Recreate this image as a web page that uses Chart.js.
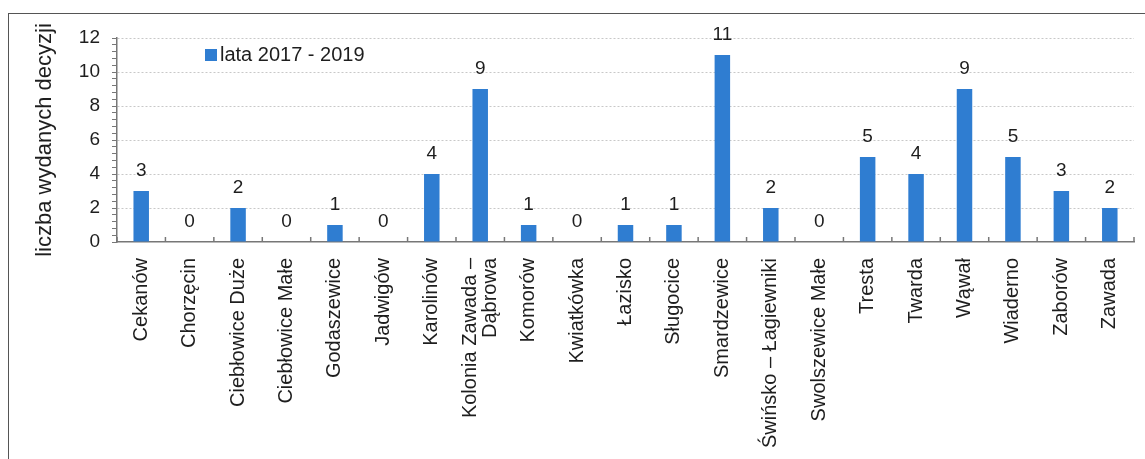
<!DOCTYPE html>
<html><head><meta charset="utf-8">
<script src="https://cdn.jsdelivr.net/npm/chart.js@4/dist/chart.umd.min.js"></script>
<style>
html,body{margin:0;padding:0;background:#fff;}
#wrap{position:relative;width:1145px;height:459px;overflow:hidden;}
#frame{position:absolute;left:8px;top:13px;width:1200px;height:500px;border-left:1.5px solid #555;border-top:1.5px solid #555;box-sizing:border-box;}
canvas{position:absolute;left:0;top:0;}
</style></head>
<body><div id="wrap"><div id="frame"></div><canvas id="c" width="1145" height="459"></canvas></div>
<script>
const categories = ['Cekanów','Chorzęcin','Ciebłowice Duże','Ciebłowice Małe','Godaszewice','Jadwigów','Karolinów',['Kolonia Zawada –','Dąbrowa'],'Komorów','Kwiatkówka','Łazisko','Sługocice','Smardzewice','Świńsko – Łagiewniki','Swolszewice Małe','Tresta','Twarda','Wąwał','Wiaderno','Zaborów','Zawada'];
const values = [3,0,2,0,1,0,4,9,1,0,1,1,11,2,0,5,4,9,5,3,2];
const seriesName = 'lata 2017 - 2019';
const yTitle = 'liczba wydanych decyzji';
const barColor = '#2f7dd1';
const textColor = '#1e1e1e';
const FONT = "'Liberation Sans', Arial, sans-serif";

const isMajor = v => Math.abs(v - Math.round(v)) < 1e-6 && Math.round(v) % 2 === 0;

const valueLabels = {
  id: 'valueLabels',
  afterDatasetsDraw(chart) {
    const ctx = chart.ctx;
    const meta = chart.getDatasetMeta(0);
    ctx.save();
    ctx.font = '19px ' + FONT;
    ctx.fillStyle = textColor;
    ctx.textAlign = 'center';
    ctx.textBaseline = 'alphabetic';
    meta.data.forEach((el, i) => {
      ctx.fillText(String(chart.data.datasets[0].data[i]), el.x, el.y - 15);
    });
    ctx.restore();
  }
};

// centre multi-line rotated labels on their tick
const centerMultiline = {
  id: 'centerMultiline',
  beforeDraw(chart) {
    const sc = chart.scales.x;
    const items = sc.getLabelItems();
    if (items._centered) return;
    items.forEach((it) => {
      if (Array.isArray(it.label) && it.label.length > 1) {
        const lh = it.font.lineHeight;
        it.options.translation[0] -= (it.label.length - 1) * lh / 2;
      }
    });
    items._centered = true;
  }
};

const innerLegend = {
  id: 'innerLegend',
  afterDraw(chart) {
    const ctx = chart.ctx;
    const ds = chart.data.datasets[0];
    ctx.save();
    ctx.fillStyle = ds.backgroundColor;
    ctx.fillRect(205, 49, 12, 12);
    ctx.font = '20px ' + FONT;
    ctx.fillStyle = textColor;
    ctx.textBaseline = 'middle';
    ctx.textAlign = 'left';
    ctx.fillText(ds.label, 220, 55);
    ctx.restore();
  }
};

const xTickMarks = {
  id: 'xTickMarks',
  afterDraw(chart) {
    const x = chart.scales.x, ctx = chart.ctx;
    const bottom = chart.chartArea.bottom;
    ctx.save();
    ctx.strokeStyle = '#777';
    ctx.lineWidth = 1.5;
    for (let i = 0; i <= categories.length; i++) {
      const px = x.getPixelForValue(i - 0.5);
      ctx.beginPath();
      ctx.moveTo(px, bottom);
      ctx.lineTo(px, bottom - 5);
      ctx.stroke();
    }
    ctx.restore();
  }
};

new Chart(document.getElementById('c'), {
  type: 'bar',
  data: {
    labels: categories,
    datasets: [{
      label: seriesName,
      data: values,
      backgroundColor: barColor,
      borderWidth: 0,
      barPercentage: 0.32,
      categoryPercentage: 1
    }]
  },
  options: {
    responsive: false,
    animation: false,
    devicePixelRatio: 1,
    layout: { padding: { top: 38, left: 32, right: 11, bottom: 0 } },
    plugins: { legend: { display: false }, tooltip: { enabled: false } },
    scales: {
      x: {
        grid: { display: false },
        border: { display: true, color: '#777', width: 1.5 },
        ticks: {
          autoSkip: false, maxRotation: 90, minRotation: 90,
          color: textColor, padding: 8,
          font: { family: FONT, size: 20, lineHeight: 1.0 }
        },
        afterFit(scale) { scale.height = 217; }
      },
      y: {
        min: 0, max: 12,
        afterBuildTicks(scale) {
          const t = [];
          for (let k = 0; k <= 30; k++) t.push({ value: Math.round(k * 0.4 * 10) / 10 });
          scale.ticks = t;
        },
        ticks: {
          autoSkip: false,
          color: textColor, padding: 12,
          font: { family: FONT, size: 19 },
          callback: (v) => isMajor(v) ? String(Math.round(v)) : ''
        },
        grid: {
          color: (c) => (c.tick && isMajor(c.tick.value) && c.tick.value !== 0) ? '#c8c8c8' : 'rgba(0,0,0,0)',
          tickColor: '#777',
          tickLength: 5,
          tickBorderDash: [],
          lineWidth: 1
        },
        border: { display: true, color: '#777', width: 1.5, dash: [2, 2] },
        title: {
          display: true, text: yTitle, color: textColor,
          font: { family: FONT, size: 22 }, padding: { top: 0, bottom: 4 }
        },
        afterFit(scale) { scale.width = 85; }
      }
    }
  },
  plugins: [valueLabels, centerMultiline, innerLegend, xTickMarks]
});
</script></body></html>
